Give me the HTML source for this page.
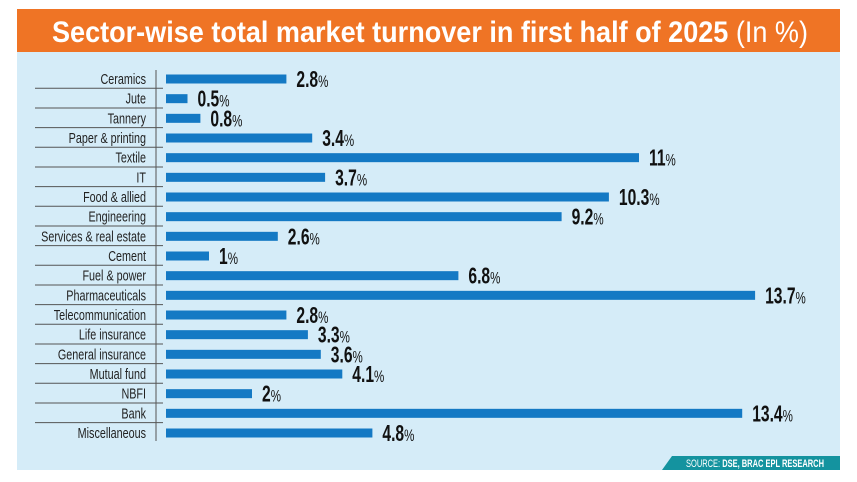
<!DOCTYPE html>
<html><head><meta charset="utf-8"><style>
html,body{margin:0;padding:0;background:#fff;width:857px;height:482px;overflow:hidden}
svg{display:block}
text{font-family:"Liberation Sans",sans-serif}
</style></head><body>
<svg width="857" height="482" viewBox="0 0 857 482">
<rect x="17" y="9" width="823" height="43" fill="#ef7425"/>
<rect x="17" y="52" width="823" height="418" fill="#d5ecf8"/>
<text x="52" y="42" fill="#fff" font-size="30" textLength="756" lengthAdjust="spacingAndGlyphs"><tspan font-weight="bold">Sector-wise total market turnover in first half of 2025 </tspan><tspan>(In %)</tspan></text>
<polygon points="672,456 840,456 840,470 662,470" fill="#14939f"/>
<text x="686" y="467" fill="#fff" font-size="11" textLength="138" lengthAdjust="spacingAndGlyphs"><tspan>SOURCE: </tspan><tspan font-weight="bold">DSE, BRAC EPL RESEARCH</tspan></text>
<line x1="156" y1="70" x2="156" y2="441" stroke="#555" stroke-width="1"/>
<g id="rows"></g>
</svg>
<script>
var d=[["Ceramics",2.8],["Jute",0.5],["Tannery",0.8],["Paper & printing",3.4],["Textile",11],["IT",3.7],["Food & allied",10.3],["Engineering",9.2],["Services & real estate",2.6],["Cement",1],["Fuel & power",6.8],["Pharmaceuticals",13.7],["Telecommunication",2.8],["Life insurance",3.3],["General insurance",3.6],["Mutual fund",4.1],["NBFI",2],["Bank",13.4],["Miscellaneous",4.8]];
var g=document.getElementById("rows"),h="";
var step=(433-79)/18;
d.forEach(function(r,i){
 var y=79+i*step,w=r[1]*43;
 h+='<rect x="166" y="'+(y-4.5)+'" width="'+w+'" height="9" fill="#1479c4"/>';
 h+='<text transform="translate(146,'+(y+5)+') scale(0.72,1)" text-anchor="end" font-size="15" fill="#222">'+r[0].replace("&","&amp;")+'</text>';
 if(i<d.length-1) h+='<line x1="35" y1="'+(y+9.3)+'" x2="163" y2="'+(y+9.3)+'" stroke="#555" stroke-width="1"/>';
 h+='<text transform="translate('+(166+w+10)+','+(y+8)+') scale(0.68,1)" font-size="23" fill="#111"><tspan font-weight="bold">'+r[1]+'</tspan><tspan font-size="17">%</tspan></text>';
});
g.innerHTML=h;
</script>
</body></html>
